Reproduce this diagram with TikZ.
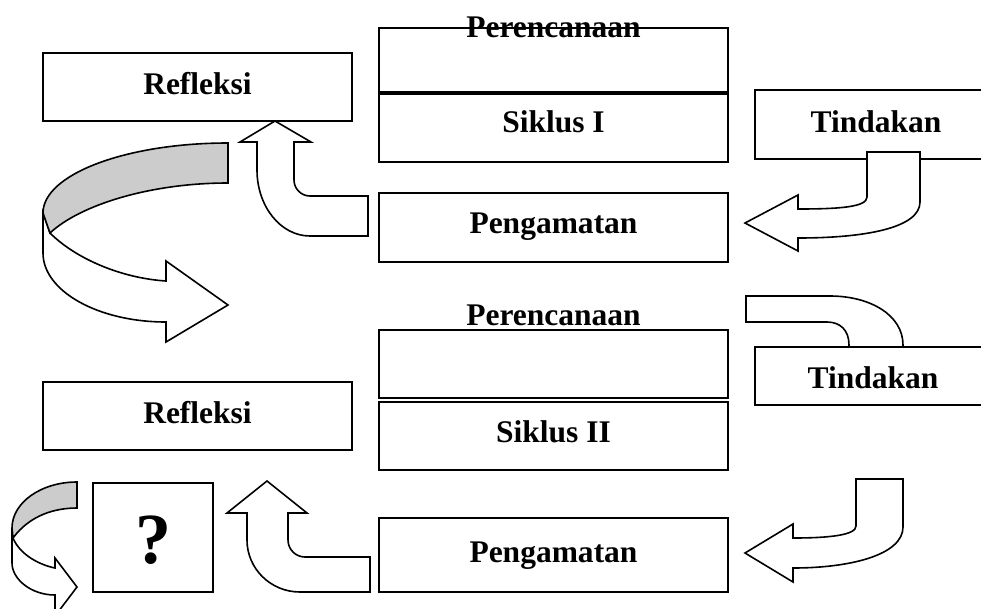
\documentclass[tikz,border=0pt]{standalone}
\usepackage{fontspec}
\setmainfont{Liberation Serif}
\definecolor{foldgrey}{RGB}{204,204,204}
\tikzset{
  box/.style={draw=black, fill=white, line width=2pt, rectangle, inner sep=0pt, outer sep=0pt, anchor=north west},
  txt/.style={anchor=base, inner sep=0pt, font=\bfseries\fontsize{31.5}{36}\selectfont},
  qtxt/.style={anchor=base, inner sep=0pt, font=\bfseries\fontsize{72}{80}\selectfont},
  blk/.style={draw=black, fill=white, line width=1.6pt, line join=miter},
  blkgrey/.style={draw=black, fill=foldgrey, line width=1.6pt, line join=miter}
}
\begin{document}
\begin{tikzpicture}[x=1pt,y=-1pt]
\useasboundingbox (0,0) rectangle (981,608);
\fill[white] (0,0) rectangle (981,608);

% ---- Siklus I boxes ----
\node[box, minimum width=309pt, minimum height=68pt] (ref1) at (43,53) {};
\node[box, minimum width=349pt, minimum height=63.5pt] (per1) at (379,28) {};
\node[box, minimum width=349pt, minimum height=68pt] (sik1) at (379,93.8) {};
\node[box, minimum width=240pt, minimum height=69pt] (tin1) at (755,90) {};
\node[box, minimum width=349pt, minimum height=69pt] (pen1) at (379,193) {};

\node[txt] (tref1) at (197.5,94) {Refleksi};
\node[txt] (tper1) at (553.5,37) {Perencanaan};
\node[txt] (tsik1) at (553.5,132) {Siklus I};
\node[txt] (ttin1) at (876,132) {Tindakan};
\node[txt] (tpen1) at (553.5,233) {Pengamatan};

% Arrow A: Pengamatan -> Refleksi (up)
\draw[blk] (368,196) -- (310,196) .. controls (301.2,196) and (294,188.8) .. (294,180)
  -- (294,142) -- (311,142) -- (275,121) -- (240,142) -- (257,142) -- (257,170)
  .. controls (257,206.4) and (280.7,236) .. (310,236) -- (368,236) -- cycle;

% Arrow B: curved 3D arrow Refleksi -> Siklus II
\draw[blk] (50,233) .. controls (75,258) and (120,278) .. (166,281) -- (166,261) -- (228,305)
  -- (166,342) -- (166,322) .. controls (98.1,322) and (43,291.1) .. (43,253) -- (43,213) -- cycle;
\draw[blkgrey] (228,143) .. controls (125.9,143) and (43,174.4) .. (43,213) -- (50,233)
  .. controls (80,205) and (150,183) .. (228,183) -- cycle;

% Arrow C: Tindakan -> Pengamatan
\draw[blk] (867,152) -- (920,152) -- (920,202) .. controls (920,228) and (865,238) .. (798,238)
  -- (798,251) -- (745,223) -- (798,195) -- (798,209) .. controls (840,209) and (867,207) .. (867,197) -- cycle;

% ---- Siklus II ----
% Arrow D: into Tindakan (head hidden under box)
\draw[blk] (746,296) -- (830,296) .. controls (870,296) and (903,315) .. (903,345) -- (903,360)
  -- (849,360) -- (849,345) .. controls (849,330) and (840,322) .. (827,322) -- (746,322) -- cycle;

\node[box, minimum width=349pt, minimum height=68pt] (per2) at (379,330) {};
\node[box, minimum width=349pt, minimum height=68pt] (sik2) at (379,402) {};
\node[box, minimum width=240pt, minimum height=58pt] (tin2) at (755,347) {};
\node[box, minimum width=309pt, minimum height=68pt] (ref2) at (43,382) {};
\node[box, minimum width=349pt, minimum height=74pt] (pen2) at (379,518) {};
\node[box, minimum width=120pt, minimum height=109pt] (qbox) at (93,483) {};

\node[txt] (tper2) at (553.5,325) {Perencanaan};
\node[txt] (tsik2) at (553.5,442) {Siklus II};
\node[txt] (ttin2) at (873,388) {Tindakan};
\node[txt] (tref2) at (197.5,423) {Refleksi};
\node[txt] (tpen2) at (553.5,562) {Pengamatan};
\node[qtxt] (tq) at (153,563) {?};

% Arrow E: Tindakan -> Pengamatan
\draw[blk] (856,479) -- (903,479) -- (903,527) .. controls (903,555) and (850,568) .. (793,568)
  -- (793,582) -- (745,553) -- (793,524) -- (793,538) .. controls (830,538) and (856,535) .. (856,526) -- cycle;

% Arrow F: Pengamatan -> Refleksi (up)
\draw[blk] (370,557) -- (305,557) .. controls (295.6,557) and (288,549.4) .. (288,540)
  -- (288,513) -- (307,513) -- (267,481) -- (227,513) -- (247,513) -- (247,540)
  .. controls (247,568.7) and (270.7,592) .. (300,592) -- (370,592) -- cycle;

% Arrow G: small curved 3D arrow
\draw[blk] (13,538) .. controls (20,555) and (40,565) .. (55,568) -- (55,558) -- (77,587)
  -- (55,616) -- (55,595) .. controls (31,595) and (12,579) .. (12,563) -- (12,528) -- cycle;
\draw[blkgrey] (77,482) .. controls (41.1,482) and (12,502.6) .. (12,528) -- (13,538)
  .. controls (30,515) and (55,508) .. (77,508) -- cycle;
\end{tikzpicture}
\end{document}
